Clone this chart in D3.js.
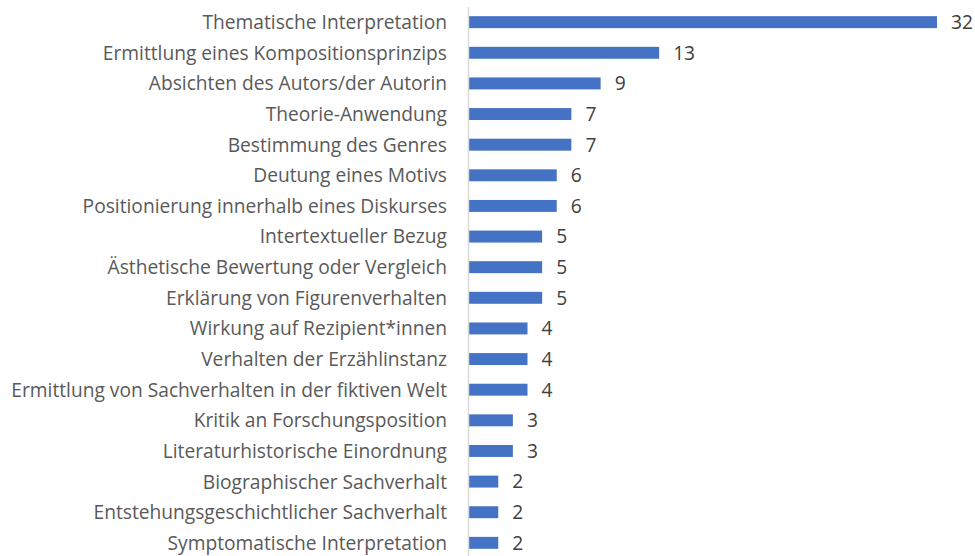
<!DOCTYPE html>
<html>
<head>
<meta charset="utf-8">
<script src="https://cdn.jsdelivr.net/npm/d3@7"></script>
<style>
  body { margin: 0; background: #fff; }
  svg text { font-family: "Open Sans", Lato, sans-serif; }
</style>
</head>
<body>
<div id="chart"></div>
<script>
// categories, top to bottom
const categories = [
  'Thematische Interpretation',
  'Ermittlung eines Kompositionsprinzips',
  'Absichten des Autors/der Autorin',
  'Theorie-Anwendung',
  'Bestimmung des Genres',
  'Deutung eines Motivs',
  'Positionierung innerhalb eines Diskurses',
  'Intertextueller Bezug',
  'Ästhetische Bewertung oder Vergleich',
  'Erklärung von Figurenverhalten',
  'Wirkung auf Rezipient*innen',
  'Verhalten der Erzählinstanz',
  'Ermittlung von Sachverhalten in der fiktiven Welt',
  'Kritik an Forschungsposition',
  'Literaturhistorische Einordnung',
  'Biographischer Sachverhalt',
  'Entstehungsgeschichtlicher Sachverhalt',
  'Symptomatische Interpretation'
];
const counts = [32, 13, 9, 7, 7, 6, 6, 5, 5, 5, 4, 4, 4, 3, 3, 2, 2, 2];

const width = 975, height = 556;
const margin = { top: 7, right: 38, bottom: 0, left: 469 };
const fontSize = '19.2px';

const svg = d3.select('#chart')
  .append('svg')
  .attr('width', width)
  .attr('height', height);

const x = d3.scaleLinear()
  .domain([0, 32])
  .range([margin.left, width - margin.right]);

const y = d3.scaleBand()
  .domain(categories)
  .range([margin.top, height + 2])
  .paddingInner(0.61)
  .paddingOuter(0.3);

// bars
svg.append('g')
  .selectAll('rect')
  .data(categories)
  .join('rect')
  .attr('x', x(0))
  .attr('y', d => y(d))
  .attr('width', (d, i) => x(counts[i]) - x(0))
  .attr('height', y.bandwidth())
  .attr('fill', '#4472C4');

// category axis (left)
const yAxis = svg.append('g')
  .attr('transform', `translate(${x(0) - 1},0)`)
  .call(d3.axisLeft(y).tickSize(0).tickPadding(21));
yAxis.select('.domain')
  .attr('d', `M0.5,${margin.top}V${height}`)
  .attr('stroke', '#d9d9d9')
  .attr('stroke-width', 1.5);
yAxis.selectAll('text')
  .style('font-size', fontSize)
  .attr('fill', '#595959')
  .attr('dy', '0.36em');

// value labels
svg.append('g')
  .selectAll('text')
  .data(categories)
  .join('text')
  .attr('x', (d, i) => x(counts[i]) + 14)
  .attr('y', d => y(d) + y.bandwidth() / 2)
  .attr('dy', '0.36em')
  .style('font-size', fontSize)
  .attr('fill', '#404040')
  .text((d, i) => counts[i]);
</script>
</body>
</html>
